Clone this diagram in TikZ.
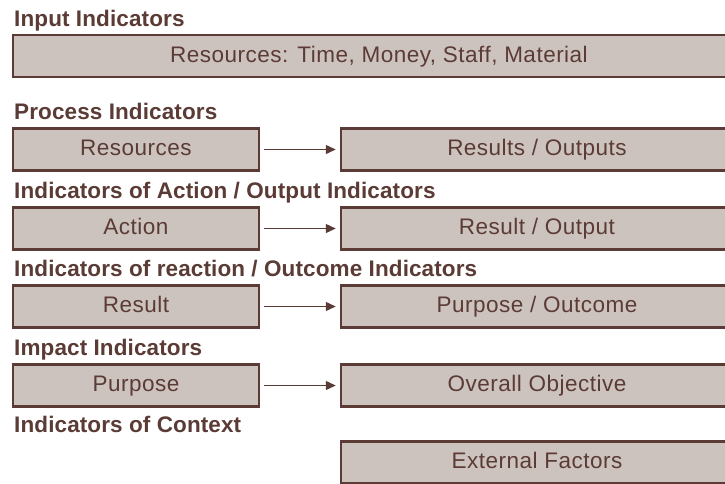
\documentclass[tikz,border=0pt]{standalone}
\usepackage{fontspec}
\setmainfont{Liberation Sans}
\newfontfamily\boxfont[LetterSpace=2.2]{Liberation Sans}
\newfontfamily\ttlfont[LetterSpace=0.5]{Liberation Sans Bold}
\usetikzlibrary{arrows.meta}
\definecolor{boxfill}{HTML}{CDC3BE}
\definecolor{ink}{HTML}{5B3B35}
\begin{document}
\begin{tikzpicture}[x=1pt,y=-1pt,
  box/.style={draw=ink,fill=boxfill,line width=2.5pt,minimum height=42pt,inner sep=0pt,text=ink,
    text height=16pt,text depth=4pt,font=\boxfont\fontsize{22.5}{25}\selectfont},
  ttl/.style={anchor=base west,text=ink,inner sep=0pt,font=\ttlfont\fontsize{22.5}{25}\selectfont},
  arr/.style={draw=ink,line width=1.4pt,-{Triangle[length=10pt,width=9pt]}}]
\useasboundingbox (0,0) rectangle (725,483);
\clip (0,0) rectangle (725,483);
% titles
\node[ttl] (t0) at (14,26) {Input Indicators};
\node[ttl] (t1) at (14,119) {Process Indicators};
\node[ttl] (t2) at (14,198) {Indicators of Action / Output Indicators};
\node[ttl] (t3) at (14,276) {Indicators of reaction / Outcome Indicators};
\node[ttl] (t4) at (14,355) {Impact Indicators};
\node[ttl] (t5) at (14,432) {Indicators of Context};
% input box
\node[box,minimum width=732pt] (in) at (379,56) {Resources: Time, Money, Staff, Material};
% rows
\node[box,minimum width=246pt] (l1) at (136,149.5) {Resources};
\node[box,minimum width=392pt] (r1) at (537,149.5) {Results / Outputs};
\node[box,minimum width=246pt] (l2) at (136,228.5) {Action};
\node[box,minimum width=392pt] (r2) at (537,228.5) {Result / Output};
\node[box,minimum width=246pt] (l3) at (136,306.5) {Result};
\node[box,minimum width=392pt] (r3) at (537,306.5) {Purpose / Outcome};
\node[box,minimum width=246pt] (l4) at (136,385.5) {Purpose};
\node[box,minimum width=392pt] (r4) at (537,385.5) {Overall Objective};
\node[box,minimum width=392pt] (r5) at (537,462.5) {External Factors};
% arrows
\foreach \i in {1,2,3,4}{
  \draw[arr] ([xshift=4pt]l\i.east) -- ([xshift=-4pt]r\i.west);
}
\end{tikzpicture}
\end{document}
